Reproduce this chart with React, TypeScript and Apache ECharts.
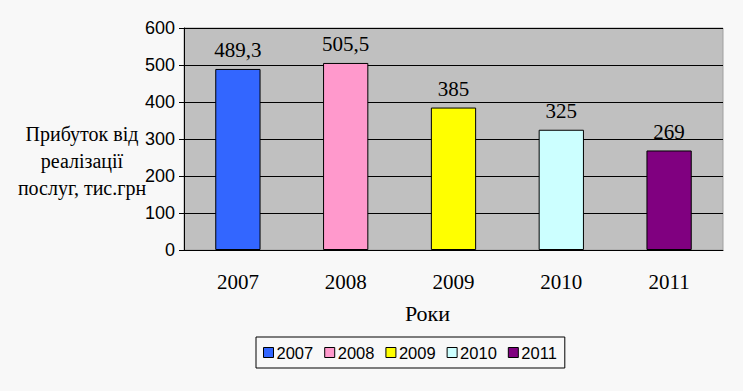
import React, { useEffect, useRef } from "react";
import * as echarts from "echarts";

const categories = ["2007", "2008", "2009", "2010", "2011"];
const values = [489.3, 505.5, 385, 325, 269];
const colors = ["#3366ff", "#ff99cc", "#ffff00", "#ccffff", "#800080"];
const yTicks = [0, 100, 200, 300, 400, 500, 600];
const yTitle = "Прибуток від\nреалізації\nпослуг, тис.грн";
const xTitle = "Роки";

export default function App() {
  const ref = useRef<HTMLDivElement>(null);
  useEffect(() => {
    if (!ref.current) return;
    const chart = echarts.init(ref.current, null, { renderer: "svg" });
    const series = categories.map((c, i) => ({
      name: c,
      type: "bar",
      barWidth: "42%",
      barGap: "-100%",
      data: categories.map((_, j) => (j === i ? values[i] : "-")),
      itemStyle: { color: colors[i], borderColor: "#000", borderWidth: 1 },
      label: {
        show: true,
        position: "top",
        distance: 8,
        color: "#000",
        fontFamily: "Liberation Serif",
        fontSize: 21,
        formatter: (p: any) => String(p.value).replace(".", ","),
      },
    }));
    chart.setOption({
      animation: false,
      backgroundColor: "#f8f8f8",
      grid: {
        left: 184,
        right: 20,
        top: 28,
        bottom: 141,
        show: true,
        backgroundColor: "#c0c0c0",
        borderColor: "#a0a0a0",
        borderWidth: 1,
      },
      legend: {
        data: categories,
        left: 256,
        top: 337,
        itemWidth: 10,
        itemHeight: 10,
        itemGap: 11,
        padding: [7, 8, 7, 7],
        borderColor: "#000",
        borderWidth: 1,
        backgroundColor: "#f8f8f8",
        icon: "rect",
        itemStyle: { borderColor: "#000", borderWidth: 1 },
        textStyle: { fontFamily: "Liberation Sans", fontSize: 16.5, color: "#000", padding: [0, 0, 0, -2] },
      },
      xAxis: {
        type: "category",
        data: categories,
        axisLine: { lineStyle: { color: "#000" } },
        axisTick: { length: 5, lineStyle: { color: "#000" } },
        axisLabel: { color: "#000", fontFamily: "Liberation Serif", fontSize: 21, margin: 21 },
        name: xTitle,
        nameLocation: "middle",
        nameGap: 52,
        nameTextStyle: { color: "#000", fontFamily: "Liberation Serif", fontSize: 22, padding: [0, 52, 0, 0] },
      },
      yAxis: {
        type: "value",
        min: yTicks[0],
        max: yTicks[yTicks.length - 1],
        interval: 100,
        axisLine: { show: true, lineStyle: { color: "#000" } },
        axisTick: { show: true, length: 5, lineStyle: { color: "#000" } },
        axisLabel: { color: "#000", fontFamily: "Liberation Sans", fontSize: 18, margin: 9 },
        splitLine: {
          show: true,
          lineStyle: { color: "#000", width: 1 },
        },
      },
      graphic: [
        {
          type: "text",
          x: 82,
          y: 120,
          style: {
            text: yTitle,
            textAlign: "center",
            fill: "#000",
            font: "20px 'Liberation Serif'",
            lineHeight: 27,
          },
        },
      ],
      series,
    });
    return () => chart.dispose();
  }, []);
  return <div ref={ref} style={{ width: 743, height: 391, position: "absolute", left: 0, top: 0 }} />;
}
